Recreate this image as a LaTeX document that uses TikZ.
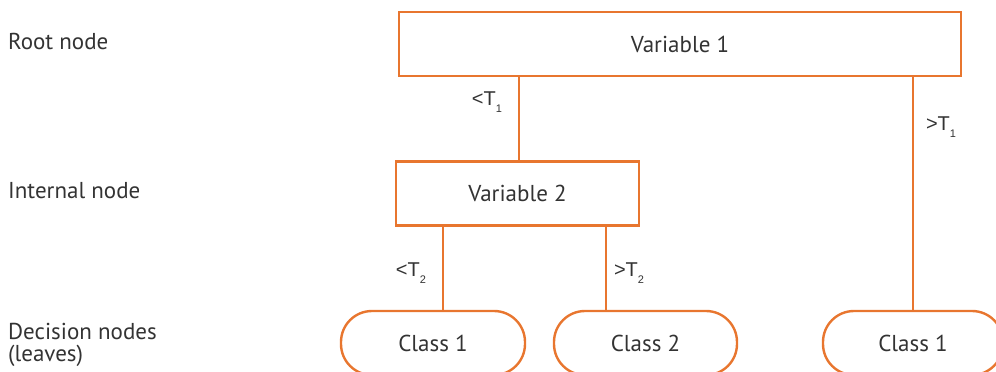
\documentclass[tikz,border=0pt]{standalone}
\usepackage{fontspec}
\setmainfont{PT Sans}
\newfontfamily\labfont{Liberation Sans}
\definecolor{tree}{HTML}{E8762F}
\definecolor{ink}{HTML}{333333}
\tikzset{
  box/.style={draw=tree, line width=2.4pt, minimum height=64pt, inner sep=0pt, text=ink, font=\fontsize{23}{25}\selectfont},
  leaf/.style={draw=tree, line width=2.4pt, rounded corners=31pt, minimum height=64pt, inner sep=0pt, text=ink, font=\fontsize{23}{25}\selectfont},
  conn/.style={draw=tree, line width=2.4pt},
  side/.style={anchor=west, text=ink, font=\fontsize{23}{25}\selectfont, inner sep=0pt},
  thr/.style={text=ink, font=\labfont\fontsize{20}{22}\selectfont, inner sep=0pt}
}
\newcommand{\thsub}[1]{\raisebox{-7pt}{\fontsize{11}{12}\selectfont #1}}
\begin{document}
\begin{tikzpicture}[x=1pt,y=1pt]
\useasboundingbox (0,0) rectangle (996,-372);
\node[box, minimum width=562pt] (root) at (680,-44) {Variable 1};
\node[box, minimum width=243pt] (v2) at (517.5,-193.5) {Variable 2};
\node[leaf, minimum width=184pt] (c1) at (433,-343) {Class 1};
\node[leaf, minimum width=183pt] (c2) at (645.5,-343) {Class 2};
\node[leaf, minimum width=180pt] (c3) at (913,-343) {Class 1};
\coordinate (r1) at (519,-44);
\coordinate (r2) at (913,-44);
\coordinate (a1) at (443,-193.5);
\coordinate (a2) at (606,-193.5);
\draw[conn] (r1 |- root.south) -- (r1 |- v2.north);
\draw[conn] (r2 |- root.south) -- (r2 |- c3.north);
\draw[conn] (a1 |- v2.south) -- (a1 |- c1.north);
\draw[conn] (a2 |- v2.south) -- (a2 |- c2.north);
\node[thr] (t1) at (487,-102) {<T\thsub{1}};
\node[thr] (t2) at (941,-127) {>T\thsub{1}};
\node[thr] (t3) at (411,-273) {<T\thsub{2}};
\node[thr] (t4) at (629,-273) {>T\thsub{2}};
\node[side] (l1) at (8,-41) {Root node};
\node[side] (l2) at (8,-191) {Internal node};
\node[side] (l3) at (8,-331) {Decision nodes};
\node[side] (l4) at (8,-356) {(leaves)};
\end{tikzpicture}
\end{document}
